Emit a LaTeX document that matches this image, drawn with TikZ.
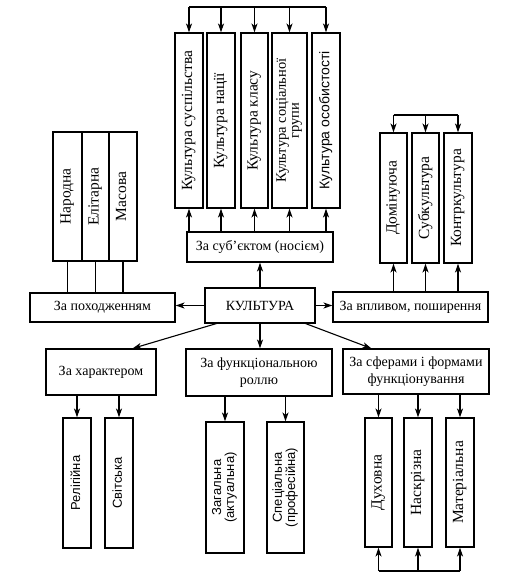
\documentclass[tikz,border=0pt]{standalone}
\usepackage{fontspec}
\usepackage{graphicx}
\setmainfont{Liberation Serif}
\newfontfamily\sansf{Liberation Sans}
\usetikzlibrary{arrows.meta}
\newcommand{\myvert}[1]{\rotatebox{90}{\begin{tabular}{@{}c@{}}#1\end{tabular}}}
\begin{document}
\begin{tikzpicture}[x=1pt,y=-1pt,
  box/.style={draw, line width=1.1pt, inner sep=0pt, align=center,
    font=\fontsize{14}{17}\selectfont},
  vbox/.style={box, font=\fontsize{15.5}{17}\selectfont},
  sbox/.style={box, font=\sansf\fontsize{13}{15}\selectfont},
  ln/.style={line width=1.1pt},
  arr/.style={line width=1.1pt, -{Stealth[length=9pt,width=6pt,inset=2.5pt]}}]
\useasboundingbox[fill=white] (0,0) rectangle (516,588);
\renewcommand{\arraystretch}{0.8}
% top group
\node[vbox, minimum width=28pt, minimum height=175pt] (s1) at (189,120.5) {\myvert{Культура суспільства}};
\node[vbox, minimum width=28pt, minimum height=175pt] (s2) at (221,120.5) {\myvert{Культура нації}};
\node[vbox, minimum width=27pt, minimum height=175pt] (s3) at (254.5,120.5) {\myvert{Культура класу}};
\node[vbox, minimum width=35pt, minimum height=175pt, font=\fontsize{14.5}{16}\selectfont] (s4) at (289.5,120.5) {\myvert{Культура соціальної\\групи}};
\node[sbox, minimum width=28pt, minimum height=175pt, font=\sansf\fontsize{14}{15}\selectfont] (s5) at (326,120.5) {\myvert{Культура особистості}};
\node[box, minimum width=146pt, minimum height=30pt] (subj) at (260,247) {За суб’єктом (носієм)};
% center
\node[box, minimum width=110pt, minimum height=35pt] (kult) at (260,305.5) {КУЛЬТУРА};
\node[box, minimum width=145pt, minimum height=29pt] (poh) at (102.5,307.5) {За походженням};
\node[box, minimum width=155pt, minimum height=30pt] (vpl) at (410.5,307) {За впливом, поширення};
% left triplet
\node[vbox, minimum width=29pt, minimum height=129pt] (n1) at (67.5,196.5) {\myvert{Народна}};
\node[vbox, minimum width=27pt, minimum height=129pt] (n2) at (95.5,196.5) {\myvert{Елітарна}};
\node[vbox, minimum width=28pt, minimum height=129pt] (n3) at (123,196.5) {\myvert{Масова}};
% right triplet
\node[vbox, minimum width=27pt, minimum height=130pt] (d1) at (393.5,198) {\myvert{Домінуюча}};
\node[vbox, minimum width=27pt, minimum height=130pt] (d2) at (425.5,198) {\myvert{Субкультура}};
\node[vbox, minimum width=28pt, minimum height=130pt] (d3) at (458,198) {\myvert{Контркультура}};
% bottom headers
\node[box, minimum width=110pt, minimum height=46pt] (char) at (101,372) {За характером};
\node[box, minimum width=146pt, minimum height=47pt] (func) at (259,372.5) {За функціональною\\роллю};
\node[box, minimum width=146pt, minimum height=45pt] (sph) at (416,371.5) {За сферами і формами\\функціонування};
% bottom boxes
\node[sbox, minimum width=28pt, minimum height=130pt] (r1) at (77,483) {\myvert{Релігійна}};
\node[sbox, minimum width=28pt, minimum height=130pt] (r2) at (119,483) {\myvert{Світська}};
\node[sbox, minimum width=38pt, minimum height=131pt] (f1) at (225,487.5) {\myvert{Загальна\\(актуальна)}};
\node[sbox, minimum width=37pt, minimum height=131pt] (f2) at (285.5,487.5) {\myvert{Спеціальна\\(професійна)}};
\node[vbox, minimum width=27pt, minimum height=129pt] (p1) at (378.5,482.5) {\myvert{Духовна}};
\node[vbox, minimum width=28pt, minimum height=129pt] (p2) at (418,482.5) {\myvert{Наскрізна}};
\node[vbox, minimum width=28pt, minimum height=129pt] (p3) at (460,482.5) {\myvert{Матеріальна}};
% buses
\coordinate (tb) at (0,7);
\coordinate (rb) at (0,115);
\coordinate (bb) at (0,571);
% top connectors
\draw[ln] (s1.north |- tb) -- (s5.north |- tb);
\foreach \n in {s1,s2,s3,s4,s5} {
  \draw[arr] (\n.north |- tb) -- (\n.north);
  \draw[arr] (\n.south |- subj.north) -- (\n.south);
}
\draw[arr] (kult.north) -- (subj.south);
% left
\draw[arr] (kult.west) -- (kult.west -| poh.east);
\foreach \n in {n1,n2,n3} \draw[ln] (\n.south) -- (\n.south |- poh.north);
% right
\draw[arr] (kult.east) -- (kult.east -| vpl.west);
\draw[ln] (d1.north |- rb) -- (d3.north |- rb);
\foreach \n in {d1,d2,d3} {
  \draw[arr] (\n.north |- rb) -- (\n.north);
  \draw[arr] (\n.south |- vpl.north) -- (\n.south);
}
% down
\draw[arr] ([xshift=12pt]kult.south west) -- ([xshift=-24pt]char.north east);
\draw[arr] (kult.south) -- (kult.south |- func.north);
\draw[arr] ([xshift=-10pt]kult.south east) -- ([xshift=29pt]sph.north west);
\foreach \n in {r1,r2} \draw[arr] (\n.north |- char.south) -- (\n.north);
\foreach \n in {f1,f2} \draw[arr] (\n.north |- func.south) -- (\n.north);
\foreach \n in {p1,p2,p3} {
  \draw[arr] (\n.north |- sph.south) -- (\n.north);
  \draw[arr] (\n.south |- bb) -- (\n.south);
}
\draw[ln] (p1.south |- bb) -- (p3.south |- bb);
\end{tikzpicture}
\end{document}
